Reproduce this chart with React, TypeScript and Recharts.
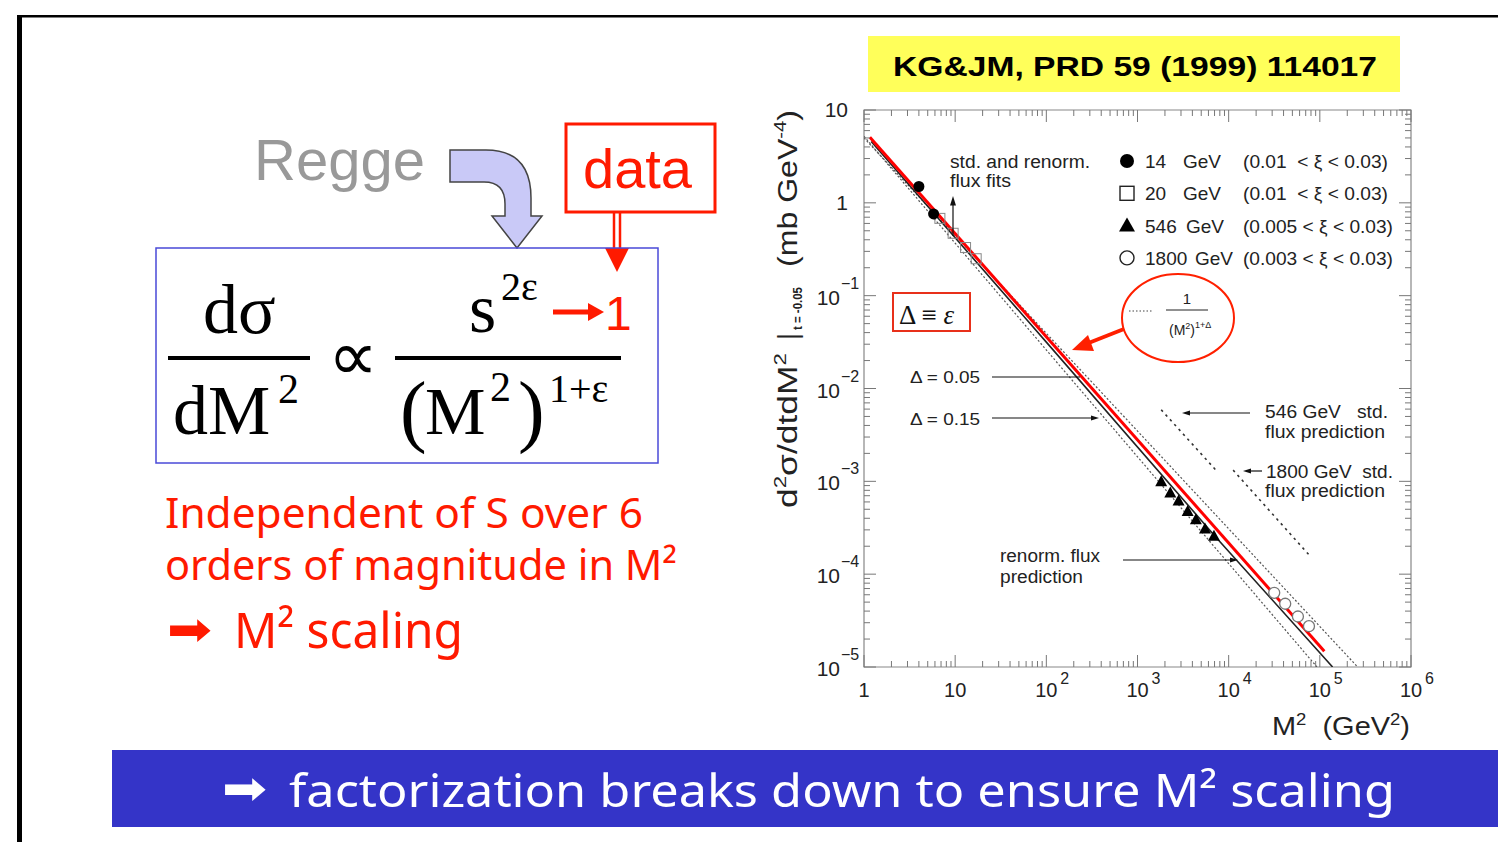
import React from 'react';
import { ComposedChart, Line, Scatter, XAxis, YAxis, ReferenceArea } from 'recharts';

// ---------- layout constants ----------
const PAGE_W = 1498;
const PAGE_H = 842;
const PLOT_LEFT = 864;
const PLOT_RIGHT = 1411;
const PLOT_TOP = 110;
const PLOT_BOTTOM = 667;
const PLOT_W = PLOT_RIGHT - PLOT_LEFT;
const PLOT_H = PLOT_BOTTOM - PLOT_TOP;
const Y_AXIS_W = 60;
const X_AXIS_H = 50;

// ---------- data ----------
const xDecades = [1, 10, 100, 1e3, 1e4, 1e5, 1e6];
const yDecades = [1e-5, 1e-4, 1e-3, 1e-2, 1e-1, 1, 10];
const minorMultipliers = [2, 3, 4, 5, 6, 7, 8, 9];

// red hand-drawn 1/(M^2)^(1+eps) line
const redScalingLine = [
  { x: 1.16, y: 5.1 },
  { x: 1.12e5, y: 1.48e-5 },
];
// dotted 1/(M^2)^(1+Delta) lines
const delta005Line = [
  { x: 1, y: 5.0 },
  { x: 2.6e5, y: 1e-5 },
];
const delta015Line = [
  { x: 1, y: 5.2 },
  { x: 9.3e4, y: 1e-5 },
];
// renormalized flux prediction (solid black)
const renormPrediction = [
  { x: 1.2, y: 4.57 },
  { x: 100, y: 0.0316 },
  { x: 7244, y: 2.5e-4 },
  { x: 1.38e5, y: 1e-5 },
];
// standard flux predictions (short dotted)
const std546Prediction = [
  { x: 1820, y: 5.9e-3 },
  { x: 7244, y: 1.32e-3 },
];
const std1800Prediction = [
  { x: 1.12e4, y: 1.32e-3 },
  { x: 7.76e4, y: 1.58e-4 },
];
// data points
const pts14GeV = [
  { x: 4.0, y: 1.5 },
  { x: 5.8, y: 0.76 },
];
const pts20GeV = [
  { x: 6.8, y: 0.68 },
  { x: 9.5, y: 0.47 },
  { x: 13, y: 0.33 },
  { x: 17, y: 0.25 },
];
const pts546GeV = [
  { x: 1820, y: 1.0e-3 },
  { x: 2290, y: 7.6e-4 },
  { x: 2820, y: 6.2e-4 },
  { x: 3550, y: 4.8e-4 },
  { x: 4370, y: 3.9e-4 },
  { x: 5500, y: 3.1e-4 },
  { x: 6900, y: 2.6e-4 },
];
const pts1800GeV = [
  { x: 3.16e4, y: 6.3e-5 },
  { x: 4.17e4, y: 4.8e-5 },
  { x: 5.75e4, y: 3.5e-5 },
  { x: 7.6e4, y: 2.75e-5 },
];

const legendRows = [
  { energy: '14', range: '(0.01  < ξ < 0.03)', marker: 'filledCircle' },
  { energy: '20', range: '(0.01  < ξ < 0.03)', marker: 'openSquare' },
  { energy: '546', range: '(0.005 < ξ < 0.03)', marker: 'filledTriangle' },
  { energy: '1800', range: '(0.003 < ξ < 0.03)', marker: 'openCircle' },
];

const buildTicks = (decades: number[]) => {
  const out: number[] = [];
  decades.forEach((d, i) => {
    out.push(d);
    if (i < decades.length - 1) minorMultipliers.forEach((m) => out.push(d * m));
  });
  return out;
};
const xTicks = buildTicks(xDecades);
const yTicks = buildTicks(yDecades);

const AX_FONT = "'Liberation Sans', Arial, sans-serif";
const SERIF = "'Liberation Serif', 'Times New Roman', serif";
const TICK_COLOR = '#777';

const isDecade = (v: number) => Math.abs(Math.log10(v) - Math.round(Math.log10(v))) < 1e-6;

const XTick = (props: any) => {
  const { x, y, payload } = props;
  const v = payload.value;
  const major = isDecade(v);
  const len = major ? 12 : 6;
  const e = Math.round(Math.log10(v));
  return (
    <g>
      <line x1={x} x2={x} y1={y} y2={y - len} stroke={TICK_COLOR} strokeWidth={1} />
      <line x1={x} x2={x} y1={y - PLOT_H} y2={y - PLOT_H + len} stroke={TICK_COLOR} strokeWidth={1} />
      {major && (
        <g fontFamily={AX_FONT} fill="#222">
          <text x={x} y={y + 30} fontSize={20} textAnchor="middle">
            {e === 0 ? '1' : '10'}
          </text>
          {e >= 2 && (
            <text x={x + 14} y={y + 17} fontSize={16} textAnchor="start">
              {e}
            </text>
          )}
        </g>
      )}
    </g>
  );
};

const YTick = (props: any) => {
  const { x, y, payload } = props;
  const v = payload.value;
  const major = isDecade(v);
  const len = major ? 12 : 6;
  const e = Math.round(Math.log10(v));
  return (
    <g>
      <line x1={x} x2={x + len} y1={y} y2={y} stroke={TICK_COLOR} strokeWidth={1} />
      <line x1={x + PLOT_W} x2={x + PLOT_W - len} y1={y} y2={y} stroke={TICK_COLOR} strokeWidth={1} />
      {major && (
        <g fontFamily={AX_FONT} fill="#222">
          {e >= 0 ? (
            <text x={x - 16} y={y + 7} fontSize={21} textAnchor="end">
              {e === 0 ? '1' : '10'}
            </text>
          ) : (
            <>
              <text x={x - 24} y={y + 9} fontSize={21} textAnchor="end">
                10
              </text>
              <text x={x - 23} y={y - 7} fontSize={16} textAnchor="start">
                {'\u2212' + Math.abs(e)}
              </text>
            </>
          )}
        </g>
      )}
    </g>
  );
};

const filledCircle = (p: any) => <circle cx={p.cx} cy={p.cy} r={5.5} fill="#000" />;
const openCircle = (p: any) => <circle cx={p.cx} cy={p.cy} r={5.5} fill="#fff" stroke="#777" strokeWidth={1.3} />;
const openSquare = (p: any) => (
  <rect x={p.cx - 5} y={p.cy - 5} width={10} height={10} fill="none" stroke="#888" strokeWidth={1} />
);
const filledTriangle = (p: any) => (
  <polygon points={`${p.cx},${p.cy - 6} ${p.cx - 6},${p.cy + 5} ${p.cx + 6},${p.cy + 5}`} fill="#000" />
);

const legendMarker = (kind: string, cx: number, cy: number) => {
  if (kind === 'filledCircle') return <circle cx={cx} cy={cy} r={7} fill="#000" />;
  if (kind === 'openCircle') return <circle cx={cx} cy={cy} r={7} fill="#fff" stroke="#222" strokeWidth={1.4} />;
  if (kind === 'openSquare')
    return <rect x={cx - 7} y={cy - 7} width={14} height={14} fill="#fff" stroke="#222" strokeWidth={1.4} />;
  return <polygon points={`${cx},${cy - 8} ${cx - 8},${cy + 6} ${cx + 8},${cy + 6}`} fill="#000" />;
};

const Arrowhead = ({ x, y, dir, size = 7, color = '#111' }: any) => {
  let pts = '';
  if (dir === 'right') pts = `${x},${y} ${x - size * 1.6},${y - size / 2} ${x - size * 1.6},${y + size / 2}`;
  if (dir === 'left') pts = `${x},${y} ${x + size * 1.6},${y - size / 2} ${x + size * 1.6},${y + size / 2}`;
  if (dir === 'up') pts = `${x},${y} ${x - size / 2},${y + size * 1.6} ${x + size / 2},${y + size * 1.6}`;
  return <polygon points={pts} fill={color} />;
};

export default function App() {
  return (
    <div
      style={{
        position: 'fixed',
        left: 0,
        top: 0,
        width: PAGE_W,
        height: PAGE_H,
        background: '#fff',
        overflow: 'hidden',
      }}
    >
      {/* background slide layer */}
      <svg width={PAGE_W} height={PAGE_H} style={{ position: 'absolute', left: 0, top: 0 }}>
        {/* slide frame */}
        <rect x={17} y={15} width={PAGE_W - 17} height={2.5} fill="#000" />
        <rect x={17} y={15} width={5} height={PAGE_H - 15} fill="#000" />

        {/* title box */}
        <rect x={868} y={36} width={532} height={56} fill="#ffff5a" />
        <text
          x={893}
          y={76}
          fontFamily={AX_FONT}
          fontWeight="bold"
          fontSize={28}
          textLength={484}
          lengthAdjust="spacingAndGlyphs"
          fill="#000"
        >
          KG&amp;JM, PRD 59 (1999) 114017
        </text>

        {/* bottom banner */}
        <rect x={112} y={750} width={PAGE_W - 112} height={77} fill="#3434c8" />
        <text
          x={222}
          y={804}
          fontFamily="'DejaVu Sans', sans-serif"
          fontSize={46}
          fill="#fff"
          textLength={45}
          lengthAdjust="spacingAndGlyphs"
        >
          ➡
        </text>
        <text
          x={289}
          y={807}
          fontFamily="'Noto Sans', sans-serif"
          fontSize={46}
          fill="#fff"
          textLength={1106}
          lengthAdjust="spacingAndGlyphs"
        >
          factorization breaks down to ensure M² scaling
        </text>

        {/* Regge */}
        <text x={254} y={180} fontFamily={AX_FONT} fontSize={58} fill="#999">
          Regge
        </text>
        <path
          d="M450,150 L486,150 Q531,150 531,198 L531,216 L542,216 L517,248 L492,216 L505,216 L505,204 Q505,182 484,182 L450,182 Z"
          fill="#c9c9f7"
          stroke="#444"
          strokeWidth={1.5}
        />

        {/* data box */}
        <rect x={566} y={124} width={149} height={88} fill="#fff" stroke="#ff1a00" strokeWidth={3} />
        <text x={583} y={188} fontFamily={AX_FONT} fontSize={56} fill="#ff1a00">
          data
        </text>
        <line x1={614} x2={614} y1={212} y2={250} stroke="#ff1a00" strokeWidth={2.5} />
        <line x1={620} x2={620} y1={212} y2={250} stroke="#ff1a00" strokeWidth={2.5} />
        <polygon points="605,248 629,248 617,272" fill="#ff1a00" />

        {/* formula box */}
        <rect x={156} y={248} width={502} height={215} fill="none" stroke="#4a4ad8" strokeWidth={1.5} />
        <g fontFamily={SERIF} fill="#000">
          <text x={203} y={333} fontSize={70}>
            dσ
          </text>
          <rect x={168} y={356} width={142} height={4} />
          <text x={173} y={434} fontSize={70}>
            dM
          </text>
          <text x={278} y={403} fontSize={42}>
            2
          </text>
          <text x={328} y={380} fontSize={70}>
            ∝
          </text>
          <text x={469} y={332} fontSize={70}>
            s
          </text>
          <text x={501} y={300} fontSize={40}>
            2ε
          </text>
          <rect x={395} y={356} width={226} height={4} />
          <text x={400} y={437} fontSize={80}>
            (
          </text>
          <text x={425} y={434} fontSize={68}>
            M
          </text>
          <text x={490} y={401} fontSize={42}>
            2
          </text>
          <text x={518} y={437} fontSize={80}>
            )
          </text>
          <text x={549} y={402} fontSize={40}>
            1+ε
          </text>
        </g>
        <line x1={553} x2={592} y1={312} y2={312} stroke="#ff1a00" strokeWidth={5} />
        <polygon points="604,312 588,303 588,321" fill="#ff1a00" />
        <text x={605} y={330} fontFamily={AX_FONT} fontSize={48} fill="#ff1a00">
          1
        </text>

        {/* red statement */}
        <g fontFamily="'Noto Sans', sans-serif" fill="#ff1a00">
          <text x={165} y={528} fontSize={42} textLength={478} lengthAdjust="spacingAndGlyphs">
            Independent of S over 6
          </text>
          <text x={165} y={580} fontSize={42} textLength={512} lengthAdjust="spacingAndGlyphs">
            orders of magnitude in M²
          </text>
          <text
            x={167}
            y={645}
            fontFamily="'DejaVu Sans', sans-serif"
            fontSize={46}
            textLength={45}
            lengthAdjust="spacingAndGlyphs"
          >
            ➡
          </text>
          <text x={234} y={648} fontSize={50} textLength={229} lengthAdjust="spacingAndGlyphs">
            M² scaling
          </text>
        </g>
      </svg>

      {/* chart */}
      <div style={{ position: 'absolute', left: 0, top: 0 }}>
        <ComposedChart
          width={PAGE_W}
          height={PAGE_H}
          margin={{
            top: PLOT_TOP,
            right: PAGE_W - PLOT_RIGHT,
            bottom: PAGE_H - PLOT_BOTTOM - X_AXIS_H,
            left: PLOT_LEFT - Y_AXIS_W,
          }}
        >
          <XAxis
            dataKey="x"
            type="number"
            scale="log"
            domain={[1, 1e6]}
            allowDataOverflow
            ticks={xTicks}
            interval={0}
            tick={<XTick />}
            tickLine={false}
            tickSize={0}
            tickMargin={0}
            axisLine={false}
            height={X_AXIS_H}
          />
          <YAxis
            dataKey="y"
            type="number"
            scale="log"
            domain={[1e-5, 10]}
            allowDataOverflow
            ticks={yTicks}
            interval={0}
            tick={<YTick />}
            tickLine={false}
            tickSize={0}
            tickMargin={0}
            axisLine={false}
            width={Y_AXIS_W}
          />
          <ReferenceArea x1={1} x2={1e6} y1={1e-5} y2={10} fill="none" stroke="#888" strokeWidth={1.2} ifOverflow="visible" />
          <Line data={delta005Line} dataKey="y" stroke="#555" strokeWidth={1.2} strokeDasharray="2 2" dot={false} isAnimationActive={false} />
          <Line data={delta015Line} dataKey="y" stroke="#555" strokeWidth={1.2} strokeDasharray="2 2" dot={false} isAnimationActive={false} />
          <Line data={std546Prediction} dataKey="y" stroke="#333" strokeWidth={1.6} strokeDasharray="2.5 4" dot={false} isAnimationActive={false} />
          <Line data={std1800Prediction} dataKey="y" stroke="#333" strokeWidth={1.6} strokeDasharray="2.5 4" dot={false} isAnimationActive={false} />
          <Line data={renormPrediction} dataKey="y" stroke="#222" strokeWidth={1.6} dot={false} isAnimationActive={false} />
          <Scatter data={pts20GeV} dataKey="y" shape={openSquare} isAnimationActive={false} />
          <Scatter data={pts14GeV} dataKey="y" shape={filledCircle} isAnimationActive={false} />
          <Scatter data={pts546GeV} dataKey="y" shape={filledTriangle} isAnimationActive={false} />
          <Scatter data={pts1800GeV} dataKey="y" shape={openCircle} isAnimationActive={false} />
          <Line data={redScalingLine} dataKey="y" stroke="#ff0000" strokeWidth={3} dot={false} isAnimationActive={false} />
        </ComposedChart>
      </div>

      {/* chart annotations */}
      <svg
        width={PAGE_W}
        height={PAGE_H}
        style={{ position: 'absolute', left: 0, top: 0, pointerEvents: 'none' }}
        fontFamily={AX_FONT}
      >
        {/* y axis title */}
        <g fill="#222">
          <text transform="translate(797,508) rotate(-90)" fontSize={27} textLength={155} lengthAdjust="spacingAndGlyphs">
            d<tspan dy={-11} fontSize={17}>2</tspan>
            <tspan dy={11}>σ/dtdM</tspan>
            <tspan dy={-11} fontSize={17}>2</tspan>
          </text>
          <text transform="translate(797,340) rotate(-90)" fontSize={27}>
            |
          </text>
          <text
            transform="translate(802,330) rotate(-90)"
            fontSize={12}
            fontWeight="bold"
            textLength={43}
            lengthAdjust="spacingAndGlyphs"
          >
            t = -0.05
          </text>
          <text transform="translate(797,267) rotate(-90)" fontSize={27} textLength={157} lengthAdjust="spacingAndGlyphs">
            (mb GeV<tspan dy={-11} fontSize={17}>-4</tspan>
            <tspan dy={11}>)</tspan>
          </text>
        </g>

        {/* x axis title */}
        <text
          x={1272}
          y={735}
          fontSize={25}
          fill="#222"
          style={{ whiteSpace: 'pre' }}
          textLength={138}
          lengthAdjust="spacingAndGlyphs"
        >
          M<tspan dy={-10} fontSize={16}>2</tspan>
          <tspan dy={10}>{'  (GeV'}</tspan>
          <tspan dy={-10} fontSize={16}>2</tspan>
          <tspan dy={10}>)</tspan>
        </text>

        {/* std and renorm flux fits */}
        <text x={950} y={168} fontSize={18} fill="#222" textLength={140} lengthAdjust="spacingAndGlyphs">
          std. and renorm.
        </text>
        <text x={950} y={187} fontSize={18} fill="#222" textLength={61} lengthAdjust="spacingAndGlyphs">
          flux fits
        </text>
        <line x1={953} x2={953} y1={236} y2={204} stroke="#111" strokeWidth={1.2} />
        <Arrowhead x={953} y={196} dir="up" size={6} />

        {/* legend */}
        {legendRows.map((r, i) => {
          const cy = 161 + i * 32.3;
          return (
            <g key={r.energy}>
              {legendMarker(r.marker, 1127, cy)}
              <text x={1145} y={cy + 7} fontSize={19} fill="#222">
                {r.energy}
              </text>
              <text
                x={r.energy.length === 4 ? 1195 : r.energy.length === 3 ? 1186 : 1183}
                y={cy + 7}
                fontSize={19}
                fill="#222"
              >
                GeV
              </text>
              <text
                x={1243}
                y={cy + 7}
                fontSize={19}
                fill="#222"
                style={{ whiteSpace: 'pre' }}
                textLength={r.range.startsWith('(0.01 ') ? 145 : 150}
                lengthAdjust="spacingAndGlyphs"
              >
                {r.range}
              </text>
            </g>
          );
        })}

        {/* ellipse formula */}
        <ellipse cx={1178} cy={318} rx={56} ry={44} fill="#fff" stroke="#ff2000" strokeWidth={2} />
        <line x1={1129} x2={1152} y1={311} y2={311} stroke="#444" strokeWidth={1.2} strokeDasharray="1.5 2" />
        <text x={1187} y={304} fontSize={15} fill="#222" textAnchor="middle">
          1
        </text>
        <line x1={1166} x2={1208} y1={310} y2={310} stroke="#222" strokeWidth={1} />
        <text x={1169} y={335} fontSize={14} fill="#222">
          (M<tspan dy={-6} fontSize={9}>2</tspan>
          <tspan dy={6}>)</tspan>
          <tspan dy={-7} fontSize={9}>1+Δ</tspan>
        </text>
        <line x1={1124} x2={1086} y1={329} y2={344} stroke="#ff2000" strokeWidth={4} />
        <polygon points="1072,350 1088,335 1094,351" fill="#ff2000" />

        {/* Delta = epsilon box */}
        <rect x={893} y={293} width={77} height={38} fill="#fff" stroke="#e8301a" strokeWidth={2} />
        <text x={899} y={324} fontFamily={SERIF} fontSize={27} fill="#111">
          Δ ≡ <tspan fontStyle="italic">ε</tspan>
        </text>

        {/* Delta annotations */}
        <text x={910} y={383} fontSize={17} fill="#222" textLength={70} lengthAdjust="spacingAndGlyphs">
          Δ = 0.05
        </text>
        <line x1={992} x2={1080} y1={377} y2={377} stroke="#111" strokeWidth={1.2} />
        <text x={910} y={425} fontSize={17} fill="#222" textLength={70} lengthAdjust="spacingAndGlyphs">
          Δ = 0.15
        </text>
        <line x1={992} x2={1092} y1={418} y2={418} stroke="#111" strokeWidth={1.2} />
        <Arrowhead x={1099} y={418} dir="right" size={5} />

        {/* 546 std flux */}
        <text x={1265} y={418} fontSize={18} fill="#222" style={{ whiteSpace: 'pre' }} textLength={123} lengthAdjust="spacingAndGlyphs">
          546 GeV   std.
        </text>
        <text x={1265} y={438} fontSize={18} fill="#222" textLength={120} lengthAdjust="spacingAndGlyphs">
          flux prediction
        </text>
        <line x1={1250} x2={1190} y1={413} y2={413} stroke="#111" strokeWidth={1.2} />
        <Arrowhead x={1182} y={413} dir="left" size={5} />

        {/* 1800 std flux */}
        <line x1={1262} x2={1250} y1={471} y2={471} stroke="#111" strokeWidth={1.2} />
        <Arrowhead x={1243} y={471} dir="left" size={5} />
        <text x={1266} y={478} fontSize={18} fill="#222" style={{ whiteSpace: 'pre' }} textLength={127} lengthAdjust="spacingAndGlyphs">
          1800 GeV  std.
        </text>
        <text x={1265} y={497} fontSize={18} fill="#222" textLength={120} lengthAdjust="spacingAndGlyphs">
          flux prediction
        </text>

        {/* renorm flux prediction */}
        <text x={1000} y={562} fontSize={18} fill="#222" textLength={100} lengthAdjust="spacingAndGlyphs">
          renorm. flux
        </text>
        <text x={1000} y={583} fontSize={18} fill="#222" textLength={83} lengthAdjust="spacingAndGlyphs">
          prediction
        </text>
        <line x1={1123} x2={1231} y1={560} y2={560} stroke="#111" strokeWidth={1.2} />
        <Arrowhead x={1238} y={560} dir="right" size={5} />
      </svg>
    </div>
  );
}
